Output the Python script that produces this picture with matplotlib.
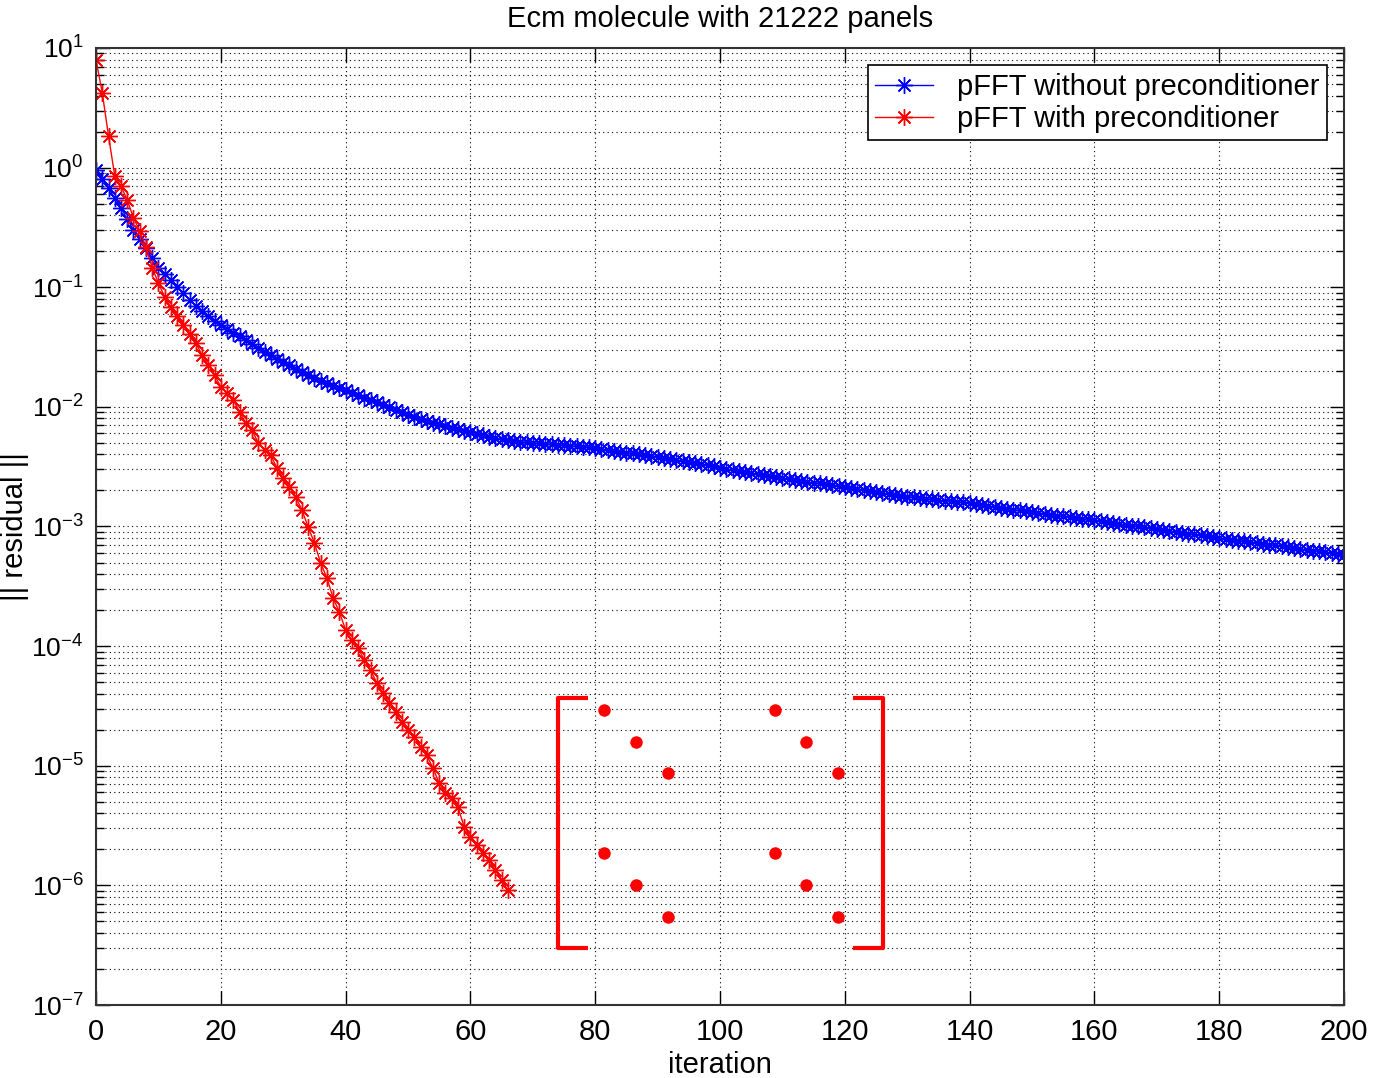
import matplotlib
matplotlib.use("Agg")
import matplotlib.pyplot as plt
import numpy as np

plt.rcParams['font.family'] = ['Liberation Sans', 'DejaVu Sans']
plt.rcParams['mathtext.fontset'] = 'custom'
plt.rcParams['mathtext.rm'] = 'Liberation Sans'
plt.rcParams['mathtext.it'] = 'Liberation Sans'

# log10 of residual, one value per iteration
blue_log = [
    -0.02, -0.095, -0.171, -0.254, -0.338, -0.43, -0.522, -0.597, -0.672, -0.756, -0.839,
    -0.89, -0.94, -0.998, -1.048, -1.107, -1.157, -1.199, -1.241, -1.283, -1.316,
    -1.349, -1.383, -1.408, -1.441, -1.475, -1.508, -1.542, -1.567, -1.6, -1.625,
    -1.65, -1.684, -1.709, -1.734, -1.759, -1.784, -1.801, -1.826, -1.843, -1.86,
    -1.885, -1.901, -1.926, -1.943, -1.96, -1.985, -2.002, -2.027, -2.043, -2.069,
    -2.085, -2.102, -2.119, -2.136, -2.144, -2.161, -2.177, -2.186, -2.203, -2.211,
    -2.228, -2.236, -2.253, -2.261, -2.27, -2.278, -2.286, -2.295, -2.295, -2.303,
    -2.303, -2.311, -2.311, -2.32, -2.32, -2.328, -2.328, -2.336, -2.336, -2.345,
    -2.353, -2.361, -2.37, -2.378, -2.386, -2.386, -2.395, -2.403, -2.411, -2.42,
    -2.428, -2.436, -2.445, -2.453, -2.461, -2.47, -2.478, -2.487, -2.495, -2.512,
    -2.52, -2.528, -2.537, -2.545, -2.554, -2.562, -2.57, -2.579, -2.587, -2.595,
    -2.604, -2.612, -2.62, -2.629, -2.637, -2.637, -2.645, -2.654, -2.662, -2.67,
    -2.679, -2.687, -2.696, -2.704, -2.712, -2.721, -2.729, -2.737, -2.746, -2.754,
    -2.754, -2.762, -2.771, -2.771, -2.779, -2.788, -2.788, -2.796, -2.796, -2.804,
    -2.813, -2.821, -2.829, -2.838, -2.846, -2.854, -2.863, -2.863, -2.871, -2.879,
    -2.888, -2.896, -2.905, -2.913, -2.913, -2.921, -2.93, -2.938, -2.938, -2.946,
    -2.955, -2.963, -2.971, -2.98, -2.988, -2.997, -2.997, -3.005, -3.013, -3.022,
    -3.03, -3.038, -3.047, -3.055, -3.063, -3.063, -3.072, -3.08, -3.088, -3.097,
    -3.105, -3.113, -3.122, -3.122, -3.13, -3.139, -3.147, -3.155, -3.155, -3.164,
    -3.172, -3.18, -3.189, -3.197, -3.205, -3.205, -3.214, -3.222, -3.231, -3.239,
]
red_log = [
    0.900, 0.624, 0.264, -0.070, -0.154, -0.271, -0.421, -0.530, -0.664, -0.839,
    -0.965, -1.082, -1.166, -1.241, -1.316, -1.391, -1.467, -1.567, -1.651, -1.734,
    -1.834, -1.885, -1.943, -2.043, -2.135, -2.194, -2.303, -2.361, -2.403, -2.512,
    -2.594, -2.669, -2.753, -2.863, -3.005, -3.139, -3.306, -3.431, -3.599, -3.716,
    -3.866, -3.950, -4.017, -4.117, -4.201, -4.309, -4.393, -4.477, -4.552, -4.635,
    -4.702, -4.761, -4.844, -4.911, -5.020, -5.146, -5.229, -5.271, -5.346, -5.513,
    -5.597, -5.664, -5.731, -5.789, -5.873, -5.957, -6.040,
]
labels = ['pFFT without preconditioner', 'pFFT with preconditioner']

# block-matrix sketch (data coordinates)
dot_x = [81.4, 86.5, 91.7, 108.8, 113.8, 118.9]
dot_y = [10**-4.535, 10**-4.803, 10**-5.062, 10**-5.731, 10**-5.999, 10**-6.266]
brk_x = [74.0, 78.8, 121.3, 126.1]
brk_y = [10**-4.435, 10**-6.525]

fig = plt.figure(figsize=(13.76, 10.78), dpi=100)
ax = fig.add_axes([0.0698, 0.0677, 0.907, 0.8878])

ast = (8, 2, 0)
ax.semilogy(np.arange(len(blue_log)), 10**np.array(blue_log), color='b', lw=1,
            marker=ast, ms=12, mew=1, label=labels[0])
ax.semilogy(np.arange(len(red_log)), 10**np.array(red_log), color='r', lw=1,
            marker=ast, ms=12, mew=1, label=labels[1])

# matrix brackets and dots
x0, x1, x2, x3 = brk_x
ytop, ybot = brk_y
ax.plot([x1, x0, x0, x1], [ytop, ytop, ybot, ybot], color='r', lw=3, solid_capstyle='butt')
ax.plot([x2, x3, x3, x2], [ytop, ytop, ybot, ybot], color='r', lw=3, solid_capstyle='butt')
for k in range(3):
    for j in (0, 3):
        ax.plot(dot_x[j + k], dot_y[k], 'o', color='r', ms=9, mew=0)
        ax.plot(dot_x[j + k], dot_y[k + 3], 'o', color='r', ms=9, mew=0)

ax.set_xlim(0, 200)
ax.set_ylim(1e-7, 1e1)
ax.set_xticks(range(0, 201, 20))
ax.set_yticks([10.0**e for e in range(-7, 2)])
ax.yaxis.set_minor_locator(matplotlib.ticker.LogLocator(base=10, subs=np.arange(2, 10), numticks=20))
ax.yaxis.set_minor_formatter(matplotlib.ticker.NullFormatter())
ax.tick_params(which='both', direction='in', top=True, right=True, colors='k')
ax.tick_params(axis='x', labelsize=21)
ax.tick_params(axis='y', labelsize=19)
ax.tick_params(which='major', length=10, width=1, pad=9)
ax.tick_params(which='minor', length=6, width=1)

ax.grid(True, which='major', color='k', linestyle=(0, (1, 3)), lw=0.8)
ax.grid(True, which='minor', axis='y', color='k', linestyle=(0, (1, 3)), lw=0.8)
for s in ax.spines.values():
    s.set_color('#333333')
    s.set_linewidth(1.5)

ax.set_title('Ecm molecule with 21222 panels', fontsize=21, pad=15)
ax.set_xlabel('iteration', fontsize=21, labelpad=4)
ax.set_ylabel('|| residual ||', fontsize=21)
ax.yaxis.set_label_coords(-0.054, 0.5)

leg = ax.legend(loc='upper right', fontsize=21, numpoints=1, handlelength=2.0,
                fancybox=False, framealpha=1, edgecolor='k', borderpad=0.25,
                labelspacing=0.15, borderaxespad=0.6)
leg.get_frame().set_linewidth(1.2)

fig.savefig('out.png', dpi=100)
